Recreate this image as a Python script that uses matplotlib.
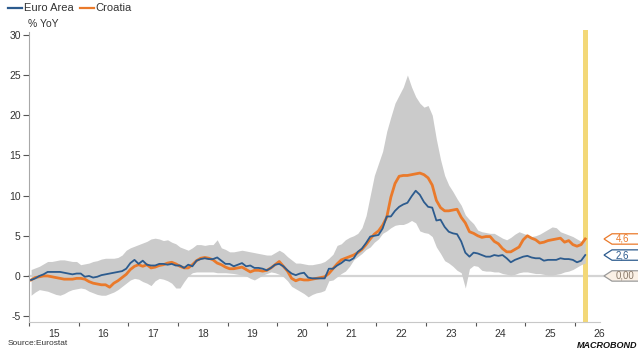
import numpy as np
import pandas as pd
import matplotlib
matplotlib.use("Agg")
from matplotlib import pyplot as plt
from matplotlib.patches import Polygon
from matplotlib.lines import Line2D
import matplotlib.transforms as mtransforms

plt.rcParams['font.family'] = ['Liberation Sans', 'DejaVu Sans']

# monthly HICP, % YoY, Jan 2015 - Mar 2026
euro_area = [-0.5, -0.3, 0.0, 0.2, 0.5, 0.5, 0.5, 0.5, 0.4, 0.3, 0.2, 0.3,
             0.3, -0.1, 0.0, -0.2, -0.1, 0.1, 0.2, 0.3, 0.4, 0.5, 0.6, 0.9,
             1.6, 2.0, 1.5, 1.9, 1.4, 1.3, 1.3, 1.5, 1.5, 1.4, 1.5, 1.3,
             1.3, 1.0, 1.4, 1.2, 1.9, 2.1, 2.2, 2.1, 2.1, 2.3, 1.9, 1.5,
             1.5, 1.2, 1.4, 1.6, 1.2, 1.3, 1.0, 1.0, 0.9, 0.7, 1.0, 1.4,
             1.5, 1.2, 0.7, 0.3, 0.1, 0.3, 0.4, -0.2, -0.3, -0.3, -0.3, -0.3,
             0.9, 0.9, 1.3, 1.6, 2.0, 1.9, 2.2, 3.0, 3.4, 4.1, 4.9, 5.0,
             5.1, 5.9, 7.4, 7.4, 8.1, 8.6, 8.9, 9.1, 9.9, 10.6, 10.1, 9.2,
             8.6, 8.5, 6.9, 7.0, 6.1, 5.5, 5.3, 5.2, 4.3, 2.9, 2.4, 2.9,
             2.8, 2.6, 2.4, 2.4, 2.6, 2.5, 2.6, 2.2, 1.7, 2.0, 2.2, 2.4,
             2.5, 2.3, 2.2, 2.2, 1.9, 2.0, 2.0, 2.0, 2.2, 2.1, 2.1, 2.0,
             1.7, 1.9, 2.6]

croatia = [-0.5, -0.2, -0.1, 0.0, 0.0, -0.1, -0.2, -0.3, -0.4, -0.4, -0.4, -0.3,
           -0.3, -0.4, -0.7, -0.9, -1.0, -1.1, -1.1, -1.4, -0.9, -0.6, -0.2, 0.2,
           0.8, 1.2, 1.4, 1.2, 1.4, 1.0, 1.1, 1.3, 1.4, 1.6, 1.7, 1.5,
           1.2, 1.0, 1.0, 1.4, 1.9, 2.2, 2.3, 2.2, 2.0, 1.6, 1.4, 1.1,
           0.9, 0.9, 1.0, 1.1, 0.8, 0.5, 0.7, 0.7, 0.6, 0.7, 1.0, 1.4,
           1.8, 1.2, 0.6, -0.3, -0.6, -0.4, -0.5, -0.5, -0.4, -0.3, -0.2, -0.1,
           0.3, 0.9, 1.5, 2.0, 2.2, 2.4, 2.6, 2.9, 3.3, 3.9, 4.6, 5.2,
           5.6, 6.3, 7.3, 9.8, 11.5, 12.4, 12.5, 12.5, 12.6, 12.7, 12.8, 12.6,
           12.2, 11.3, 9.4, 8.5, 8.1, 8.1, 8.2, 8.3, 7.3, 6.6, 5.5, 5.3,
           5.0, 4.8, 4.9, 4.9, 4.3, 4.0, 3.4, 3.0, 3.0, 3.3, 3.6, 4.5,
           5.0, 4.7, 4.5, 4.1, 4.2, 4.4, 4.5, 4.6, 4.7, 4.2, 4.4, 3.9,
           3.7, 3.9, 4.6]

# range across euro area member states
band_low = [-2.4, -2.0, -1.7, -1.8, -1.9, -2.1, -2.3, -2.4, -2.2, -1.9, -1.7, -1.6,
            -1.5, -1.6, -1.9, -2.1, -2.3, -2.4, -2.4, -2.2, -2.0, -1.7, -1.3, -0.9,
            -0.5, -0.3, -0.4, -0.7, -0.9, -1.2, -0.6, -0.3, -0.4, -0.6, -0.9, -1.5,
            -1.5, -0.7, 0.0, 0.4, 0.5, 0.5, 0.5, 0.5, 0.5, 0.4, 0.4, 0.4,
            0.35, 0.3, 0.2, 0.1, 0.0, -0.3, -0.5, -0.2, 0.1, 0.3, 0.5, 0.4,
            0.2, -0.1, -0.6, -1.3, -1.6, -1.9, -2.2, -2.6, -2.3, -2.1, -2.0, -1.8,
            -0.6, -0.5, -0.1, 0.3, 0.6, 1.2, 2.0, 2.4, 2.8, 3.3, 3.6, 4.2,
            4.6, 5.3, 5.6, 6.0, 6.3, 6.4, 6.4, 6.6, 6.9, 6.6, 5.6, 5.4,
            5.3, 4.9, 3.6, 2.8, 1.9, 1.6, 1.2, 0.7, 0.4, -1.5, 0.9, 1.3,
            1.2, 0.7, 0.6, 0.6, 0.5, 0.5, 0.3, 0.2, 0.1, 0.2, 0.4, 0.5,
            0.5, 0.4, 0.3, 0.3, 0.2, 0.1, 0.1, 0.2, 0.3, 0.5, 0.6, 0.8,
            1.1, 1.4, 1.6]

band_high = [0.8, 1.0, 1.2, 1.5, 1.8, 1.8, 1.9, 2.0, 2.0, 1.9, 1.8, 1.8,
             1.4, 1.5, 1.6, 1.8, 1.9, 2.1, 2.2, 2.2, 2.2, 2.3, 2.6, 3.2,
             3.5, 3.7, 3.9, 4.1, 4.3, 4.6, 4.7, 4.6, 4.4, 4.5, 4.2, 4.0,
             3.6, 3.4, 3.2, 3.5, 3.9, 3.9, 3.8, 3.9, 3.9, 4.5, 3.5, 3.3,
             3.0, 3.0, 3.1, 3.2, 3.1, 3.0, 2.9, 2.8, 2.7, 2.6, 2.6, 2.9,
             3.2, 2.9, 2.4, 2.0, 1.6, 1.6, 1.5, 1.4, 1.4, 1.5, 1.6, 1.8,
             2.2, 2.7, 3.8, 4.0, 4.5, 4.8, 5.0, 5.3, 6.0, 7.5, 10.0, 12.5,
             14.0, 15.5, 18.0, 19.8, 21.5, 22.5, 23.5, 25.0, 23.5, 22.3, 21.5, 21.0,
             21.2, 20.0, 17.0, 14.5, 12.5, 11.3, 10.5, 9.6, 8.8, 7.6, 7.0, 6.5,
             5.7, 5.5, 5.4, 5.3, 5.3, 5.0, 4.7, 4.5, 4.8, 5.2, 5.5, 5.3,
             5.1, 4.9, 5.0, 5.2, 5.5, 5.8, 6.1, 6.0, 5.5, 5.3, 5.1, 4.9,
             4.6, 4.3, 4.9]

year_labels = ['15', '16', '17', '18', '19', '20', '21', '22', '23', '24', '25', '26']
y_ticks = [-5, 0, 5, 10, 15, 20, 25, 30]

BLUE = '#2c5b8e'
ORANGE = '#ea7a2b'
GREY_TXT = '#333333'

months = pd.date_range('2015-01-01', periods=len(euro_area), freq='MS')
t = months.year + (months.month - 0.5) / 12.0

fig = plt.figure(figsize=(6.38, 3.51), dpi=100)
ax = fig.add_axes([0.0455, 0.0826, 0.8945, 0.832])

ax.fill_between(t, band_low, band_high, color='#cbcbcb', lw=0, zorder=1)
ax.axhline(0, color='#d4d4d4', lw=1.6, zorder=0.5, xmax=1.01, clip_on=False)
ax.plot(t, euro_area, color=BLUE, lw=1.3, zorder=3)
ax.plot(t, croatia, color=ORANGE, lw=2.0, zorder=2)

# latest observation highlight
ax.axvspan(t[-1] - 0.05, t[-1] + 0.05, ymin=0, ymax=1.0, color='#f3d878', lw=0, zorder=0.8)

ax.set_xlim(2015.0, 2026.42)
ax.set_ylim(-5.73, 30.6)

for s in ['top', 'right']:
    ax.spines[s].set_visible(False)
ax.spines['left'].set_color('#a8a8a8')
ax.spines['bottom'].set_color('#c8c8c8')
ax.spines['left'].set_bounds(-5.73, 30.3)

ax.set_yticks(y_ticks)
ax.set_yticklabels([str(v) for v in y_ticks])
ax.tick_params(axis='y', length=4, width=0.8, color='#555555', labelsize=7.5,
               labelcolor=GREY_TXT, pad=2)

years = np.arange(2015, 2027)
ax.set_xticks(years)
ax.set_xticklabels([])
ax.set_xticks(years + 0.5, minor=True)
ax.set_xticklabels(year_labels, minor=True)
ax.tick_params(axis='x', which='major', length=3, width=0.8, color='#555555')
ax.tick_params(axis='x', which='minor', length=0, labelsize=7.5, labelcolor=GREY_TXT, pad=5)

# legend and unit
fig.add_artist(Line2D([8 / 638, 22 / 638], [0.978, 0.978], color=BLUE, lw=1.6))
fig.text(23.5 / 638, 0.978, 'Euro Area', fontsize=8, color=GREY_TXT, va='center')
fig.add_artist(Line2D([80 / 638, 94 / 638], [0.978, 0.978], color=ORANGE, lw=1.6))
fig.text(95.5 / 638, 0.978, 'Croatia', fontsize=8, color=GREY_TXT, va='center')
fig.text(28 / 638, 1 - 24 / 351, '% YoY', fontsize=7.5, color=GREY_TXT, va='center')

fig.text(0.012, 0.012, 'Source:Eurostat', fontsize=6, color=GREY_TXT, va='bottom')
fig.text(0.999, 0.004, 'MACROBOND', fontsize=6.5, color='#111111', fontweight='bold',
         style='italic', ha='right', va='bottom')

# value tags on the right
trans = mtransforms.blended_transform_factory(fig.transFigure, ax.transData)
px = 1.0 / 638
h = 5.2 / 8.05
tags = [(croatia[-1], '4,6', ORANGE, 'white', ORANGE),
        (euro_area[-1], '2,6', BLUE, 'white', BLUE),
        (0.0, '0,00', '#8a7a6a', '#fbf1e6', '#9a9a9a')]
for val, txt, tcol, fcol, ecol in tags:
    x0, x1, x2 = 604 * px, 612 * px, 640 * px
    pts = [(x0, val), (x1, val + h), (x2, val + h), (x2, val - h), (x1, val - h)]
    ax.add_patch(Polygon(pts, closed=True, transform=trans, facecolor=fcol,
                         edgecolor=ecol, lw=0.9, clip_on=False, zorder=5))
    ax.text(616 * px, val, txt, transform=trans, fontsize=7, color=tcol,
            va='center', ha='left', zorder=6, clip_on=False)

fig.savefig('out.png', dpi=100)
